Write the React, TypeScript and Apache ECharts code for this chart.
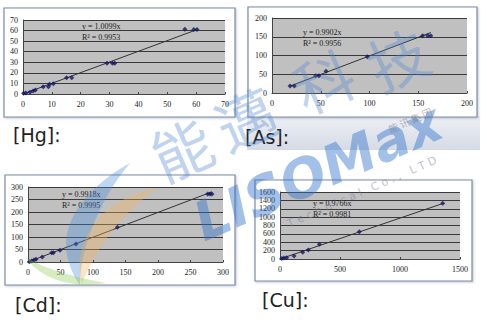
import React, { useEffect, useRef } from "react";
import * as echarts from "echarts";

// ---- data ----
const hgX = [0.2, 1, 2.4, 3.5, 4.3, 7, 8.8, 9.2, 10.5, 15.1, 16.9, 29.1, 31, 31.8, 56.1, 59.2, 60.3];
const hgY = [0.7, 0.9, 1.6, 2.8, 3.8, 6.9, 6.9, 9.2, 9.8, 15.4, 15.4, 29, 29, 29, 61.2, 61, 61];
const hgSlope = 1.0099;
const hgEq = ["y = 1.0099x", "R² = 0.9953"];

const asX = [18.5, 22.9, 44.8, 48.2, 55.4, 97.8, 154.5, 159.7, 162.8];
const asY = [18.7, 18.7, 46, 46, 57.8, 96.9, 152.5, 153, 153];
const asSlope = 0.9902;
const asEq = ["y = 0.9902x", "R² = 0.9956"];

const cdX = [2, 5.6, 9.2, 12.3, 22, 36.4, 39, 49.2, 73.8, 137.4, 276.4, 280, 283];
const cdY = [1.3, 4, 8, 10.7, 20, 37.3, 37.3, 46.7, 72, 138.7, 272, 272, 272];
const cdSlope = 0.9918;
const cdEq = ["y = 0.9918x", "R² = 0.9995"];

const cuX = [14, 33, 55, 117, 189, 236, 328, 661, 1356];
const cuY = [10, 24, 30, 72, 159, 215, 350, 653, 1330];
const cuSlope = 0.9766;
const cuEq = ["y = 0.9766x", "R² = 0.9981"];

const panelNames = ["[Hg]:", "[As]:", "[Cd]:", "[Cu]:"];
const axisMax = [[70, 70], [200, 200], [300, 300], [1500, 1600]];
const axisStep = [[10, 10], [50, 50], [50, 50], [500, 200]];
const watermarkChars = ["能", "邁", "科", "技"];
const watermarkBrand = "LISOMax";
const watermarkSub = "T e c h n i c a l   C o . ,   L T D";
const watermarkGroup = "能 讯 集 团";

const panels = [
  { x: hgX, y: hgY, slope: hgSlope, eq: hgEq },
  { x: asX, y: asY, slope: asSlope, eq: asEq },
  { x: cdX, y: cdY, slope: cdSlope, eq: cdEq },
  { x: cuX, y: cuY, slope: cuSlope, eq: cuEq },
];

// layout (pixels)
const grids = [
  { left: 23, top: 20, width: 202, height: 74 },
  { left: 272, top: 18, width: 195, height: 75 },
  { left: 28, top: 187, width: 195, height: 75 },
  { left: 280, top: 192, width: 180, height: 67 },
];
const boxes = [
  { x: 4, y: 8, width: 231, height: 109 },
  { x: 248, y: 7, width: 229, height: 110 },
  { x: 5, y: 175, width: 230, height: 110 },
  { x: 255, y: 180, width: 217, height: 101 },
];
const namePos = [[13, 135], [245, 137], [15, 305], [262, 300]];
const eqPos = [[82, 26], [303, 32], [62, 194], [313, 203]];

echarts.graphic.registerShape(
  "swooshBlue",
  echarts.graphic.extendPath("M130,163 C90,185 60,220 67,255 C70,270 76,280 80,285 C80,255 95,205 130,163 Z", {})
);
echarts.graphic.registerShape(
  "swooshOrange",
  echarts.graphic.extendPath("M158,188 C105,196 70,240 82,284 C96,248 122,212 158,188 Z", {})
);
echarts.graphic.registerShape(
  "swooshGreen",
  echarts.graphic.extendPath("M25,257 C40,278 70,289 106,283 C75,277 50,271 25,257 Z", {})
);

export default function App() {
  const ref = useRef<HTMLDivElement>(null);
  useEffect(() => {
    if (!ref.current) return;
    const chart = echarts.init(ref.current, undefined, { renderer: "svg" });
    const labelFont = { fontFamily: "Liberation Serif", fontSize: 8, color: "#222" };
    const plain = (v: number) => String(v);

    const xAxis = panels.map((_, i) => ({
      type: "value",
      gridIndex: i,
      min: 0,
      max: axisMax[i][0],
      interval: axisStep[i][0],
      axisLine: { show: true, lineStyle: { color: "#444", width: 1 } },
      axisTick: { show: true, inside: true, length: 2, lineStyle: { color: "#444" } },
      splitLine: { show: false },
      axisLabel: { ...labelFont, margin: 6, formatter: plain },
    }));
    const yAxis = panels.map((_, i) => ({
      type: "value",
      gridIndex: i,
      min: 0,
      max: axisMax[i][1],
      interval: axisStep[i][1],
      axisLine: { show: true, lineStyle: { color: "#444", width: 1 } },
      axisTick: { show: false },
      splitLine: { show: true, lineStyle: { color: "#3a3a3a", width: 1 } },
      axisLabel: { ...labelFont, margin: 5, formatter: plain },
    }));

    const series: any[] = [];
    panels.forEach((p, i) => {
      const xmin = Math.min(...p.x);
      const xmax = Math.max(...p.x);
      series.push({
        type: "line",
        xAxisIndex: i,
        yAxisIndex: i,
        data: [[xmin, p.slope * xmin], [xmax, p.slope * xmax]],
        symbol: "none",
        lineStyle: { color: "#333", width: 1 },
        z: 3,
      });
      series.push({
        type: "scatter",
        xAxisIndex: i,
        yAxisIndex: i,
        data: p.x.map((v, k) => [v, p.y[k]]),
        symbol: "diamond",
        symbolSize: 5,
        itemStyle: { color: "#151560" },
        z: 4,
      });
    });

    const graphic: any[] = [];
    graphic.push({
      type: "rect",
      z: -5,
      shape: { x: 247, y: 116, width: 233, height: 34 },
      style: {
        fill: new echarts.graphic.LinearGradient(0, 0, 0, 1, [
          { offset: 0, color: "#eef0f5" },
          { offset: 1, color: "#d5dae5" },
        ]),
      },
    });
    boxes.forEach((b) => {
      graphic.push({
        type: "rect",
        z: -4,
        shape: { x: b.x, y: b.y, width: b.width, height: b.height },
        style: { fill: "#fff", stroke: "#7d8ca3", lineWidth: 1.2, shadowBlur: 2, shadowColor: "rgba(80,100,140,0.35)", shadowOffsetX: 1, shadowOffsetY: 1 },
      });
    });
    panelNames.forEach((n, i) => {
      graphic.push({
        type: "text",
        x: namePos[i][0],
        y: namePos[i][1],
        z: 5,
        style: { text: n, fontFamily: "DejaVu Sans", fontSize: 19, fill: "#222", verticalAlign: "middle" },
      });
    });
    panels.forEach((p, i) => {
      p.eq.forEach((t, k) => {
        graphic.push({
          type: "text",
          x: eqPos[i][0],
          y: eqPos[i][1] + k * 11,
          z: 50,
          style: { text: t, fontFamily: "Liberation Serif", fontSize: 8, fill: "#222", verticalAlign: "middle" },
        });
      });
    });
    graphic.push({ type: "swooshBlue", x: 0, y: 0, z: 60, style: { fill: "rgba(70,140,220,0.35)" } });
    graphic.push({ type: "swooshOrange", x: 0, y: 0, z: 60, style: { fill: "rgba(245,180,90,0.35)" } });
    graphic.push({ type: "swooshGreen", x: 0, y: 0, z: 60, style: { fill: "rgba(140,200,80,0.35)" } });
    const charPos = [[181, 147], [245, 117], [323, 79], [397, 57]];
    watermarkChars.forEach((c, i) => {
      graphic.push({
        type: "text",
        x: charPos[i][0],
        y: charPos[i][1],
        rotation: 0.41,
        z: 60,
        style: { text: c, fontFamily: "Noto Sans CJK SC", fontSize: 60, fill: "rgba(80,135,210,0.36)", align: "center", verticalAlign: "middle" },
      });
    });
    graphic.push({
      type: "text",
      x: 318,
      y: 172,
      rotation: 0.41,
      z: 61,
      style: { text: watermarkBrand, fontFamily: "DejaVu Sans", fontWeight: "bold", fontStyle: "italic", fontSize: 54, fill: "rgba(50,115,205,0.45)", align: "center", verticalAlign: "middle" },
    });
    graphic.push({
      type: "text",
      x: 362,
      y: 192,
      rotation: 0.41,
      z: 61,
      style: { text: watermarkSub, fontFamily: "DejaVu Sans", fontSize: 11, fill: "rgba(120,130,150,0.5)", align: "center", verticalAlign: "middle" },
    });
    graphic.push({
      type: "text",
      x: 410,
      y: 120,
      rotation: 0.41,
      z: 61,
      style: { text: watermarkGroup, fontFamily: "Noto Sans CJK SC", fontSize: 10, fill: "rgba(110,115,130,0.5)", align: "center", verticalAlign: "middle" },
    });

    chart.setOption({
      animation: false,
      backgroundColor: "#fff",
      grid: grids.map((g) => ({ ...g, show: true, backgroundColor: "#c0c0c0", borderWidth: 0 })),
      xAxis,
      yAxis,
      series,
      graphic,
    });
    return () => chart.dispose();
  }, []);
  return <div ref={ref} style={{ position: "fixed", left: 0, top: 0, width: 487, height: 323 }} />;
}
